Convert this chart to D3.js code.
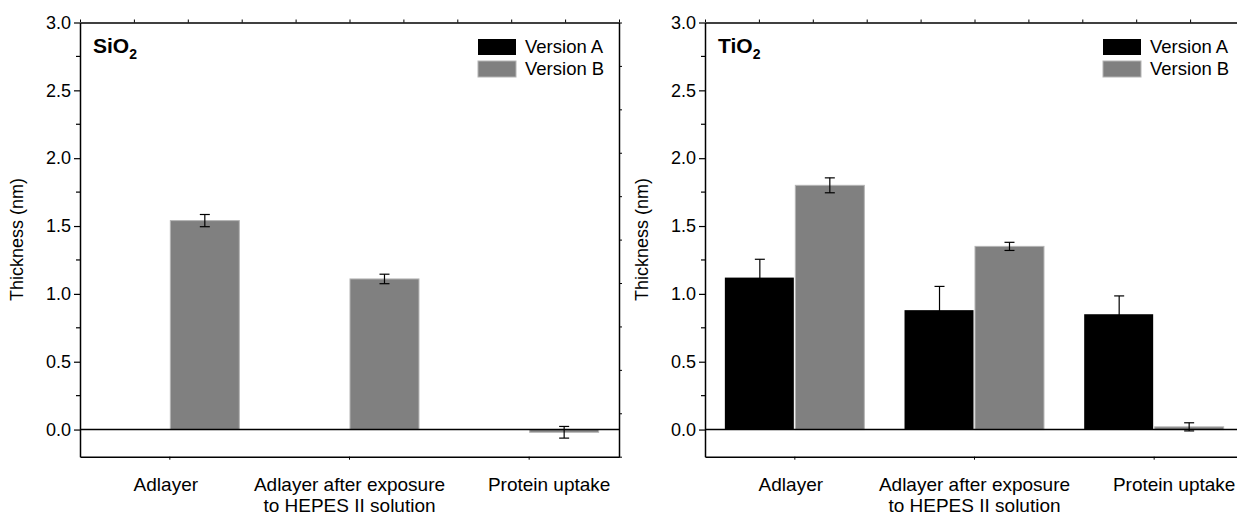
<!DOCTYPE html>
<html>
<head>
<meta charset="utf-8">
<script src="https://cdn.jsdelivr.net/npm/d3@7"></script>
<style>
  body { margin: 0; background: #fff; }
  svg text { font-family: "Liberation Sans", Arial, sans-serif; fill: #000; }
</style>
</head>
<body>
<div id="chart"></div>
<script>
// data
var categories = ["Adlayer", "Adlayer after exposure|to HEPES II solution", "Protein uptake"];
var series = ["Version A", "Version B"];
var seriesColor = ["#000000", "#808080"];

var sio2A = [null, null, null];
var sio2AErr = [null, null, null];
var sio2B = [1.54, 1.11, -0.02];
var sio2BErr = [0.045, 0.035, 0.043];

var tio2A = [1.12, 0.88, 0.85];
var tio2AErr = [0.135, 0.175, 0.135];
var tio2B = [1.80, 1.35, 0.02];
var tio2BErr = [0.055, 0.03, 0.03];

var yTicks = [0.0, 0.5, 1.0, 1.5, 2.0, 2.5, 3.0];

// layout
var W = 1237, H = 515;
var panelW = 539, plotTop = 22.5, plotBottom = 456.7;
var labelShift = [-4, 0, 20];

var svg = d3.select("#chart").append("svg")
	.attr("width", W)
	.attr("height", H);

var y = d3.scaleLinear().domain([-0.2, 3.0]).range([plotBottom, plotTop]);

var x0 = d3.scaleBand()
	.domain(categories)
	.range([0, panelW])
	.paddingInner(0.221)
	.paddingOuter(0.1105);

var x1 = d3.scaleBand()
	.domain(series)
	.range([0, x0.bandwidth()]);

// mirror axes (top/right) use a plain 0..10 scale like the original
var mirrorX = d3.scaleLinear().domain([0, 10]).range([0, panelW]);
var mirrorY = d3.scaleLinear().domain([0, 10]).range([plotBottom, plotTop]);

function drawPanel(px, title, valsA, errA, valsB, errB) {
	var g = svg.append("g").attr("transform", "translate(" + px + ",0)");

	var rows = [];
	categories.forEach(function(c, i) {
		rows.push({cat: c, s: 0, v: valsA[i], e: errA[i]});
		rows.push({cat: c, s: 1, v: valsB[i], e: errB[i]});
	});
	rows = rows.filter(function(d) { return d.v != null; });

	// bars
	g.selectAll("rect.bar")
		.data(rows)
		.enter().append("rect")
			.attr("class", "bar")
			.attr("x", function(d) { return x0(d.cat) + x1(series[d.s]) + (d.s == 0 ? 0 : 0.5); })
			.attr("width", x1.bandwidth() - 1)
			.attr("y", function(d) { return y(Math.max(0, d.v)); })
			.attr("height", function(d) { return Math.abs(y(d.v) - y(0)); })
			.attr("fill", function(d) { return seriesColor[d.s]; })
			.attr("stroke", function(d) { return d.s == 0 ? "none" : "#b4b4b4"; })
			.attr("stroke-width", 1);

	// error bars
	var eb = g.selectAll("g.err")
		.data(rows)
		.enter().append("g")
			.attr("class", "err")
			.attr("transform", function(d) {
				return "translate(" + (x0(d.cat) + x1(series[d.s]) + x1.bandwidth() / 2) + ",0)";
			});
	eb.append("line")
		.attr("y1", function(d) { return y(d.v - d.e); })
		.attr("y2", function(d) { return y(d.v + d.e); })
		.attr("stroke", "#000").attr("stroke-width", 1.2);
	eb.append("line")
		.attr("x1", -5).attr("x2", 5)
		.attr("y1", function(d) { return y(d.v + d.e); })
		.attr("y2", function(d) { return y(d.v + d.e); })
		.attr("stroke", "#000").attr("stroke-width", 1.2);
	eb.append("line")
		.attr("x1", -5).attr("x2", 5)
		.attr("y1", function(d) { return y(d.v - d.e); })
		.attr("y2", function(d) { return y(d.v - d.e); })
		.attr("stroke", "#000").attr("stroke-width", 1.2);

	// zero line
	g.append("line")
		.attr("x1", 0).attr("x2", panelW)
		.attr("y1", y(0)).attr("y2", y(0))
		.attr("stroke", "#000").attr("stroke-width", 1.5);

	// left axis
	var yAxis = d3.axisLeft(y)
		.tickValues(yTicks)
		.tickFormat(d3.format(".1f"))
		.tickSize(6)
		.tickSizeOuter(0)
		.tickPadding(3);
	var ya = g.append("g").call(yAxis);
	ya.select(".domain").attr("stroke-width", 1.5);
	ya.selectAll("text").attr("font-size", "18px").attr("font-family", "Liberation Sans, Arial, sans-serif");
	ya.selectAll("line").attr("stroke-width", 1.2);

	// minor ticks
	g.selectAll("line.minor")
		.data([0.25, 0.75, 1.25, 1.75, 2.25, 2.75])
		.enter().append("line")
			.attr("x1", -4).attr("x2", 0)
			.attr("y1", function(d) { return y(d); })
			.attr("y2", function(d) { return y(d); })
			.attr("stroke", "#000").attr("stroke-width", 1.2);

	// bottom axis
	var xAxis = d3.axisBottom(x0).tickSize(3).tickSizeOuter(0).tickFormat("");
	var xa = g.append("g")
		.attr("transform", "translate(0," + plotBottom + ")")
		.call(xAxis);
	xa.select(".domain").attr("stroke-width", 1.5);

	// top mirror axis
	var ta = g.append("g")
		.attr("transform", "translate(0," + plotTop + ")")
		.call(d3.axisTop(mirrorX).tickValues(d3.range(0, 11)).tickSize(3).tickSizeOuter(0).tickFormat(""));
	ta.select(".domain").attr("stroke-width", 1.5);

	// right mirror axis
	var ra = g.append("g")
		.attr("transform", "translate(" + panelW + ",0)")
		.call(d3.axisRight(mirrorY).tickValues(d3.range(0, 11)).tickSize(3).tickSizeOuter(0).tickFormat(""));
	ra.select(".domain").attr("stroke-width", 1.5);

	// category labels
	categories.forEach(function(c, i) {
		var lines = c.split("|");
		var cx = x0(c) + x0.bandwidth() / 2 + labelShift[i];
		var t = g.append("text")
			.attr("x", cx)
			.attr("y", 491)
			.attr("text-anchor", "middle")
			.attr("font-size", "19px");
		lines.forEach(function(l, j) {
			t.append("tspan")
				.attr("x", cx)
				.attr("dy", j == 0 ? 0 : 21)
				.text(l);
		});
	});

	// y title
	g.append("text")
		.attr("transform", "translate(" + (-57) + "," + ((plotTop + plotBottom) / 2) + ") rotate(-90)")
		.attr("text-anchor", "middle")
		.attr("font-size", "18px")
		.text("Thickness (nm)");

	// panel title with subscript
	var tt = g.append("text")
		.attr("x", 13)
		.attr("y", 53)
		.attr("font-size", "21px")
		.attr("font-weight", "bold");
	tt.append("tspan").text(title);
	tt.append("tspan").attr("font-size", "14px").attr("dy", 6).text("2");

	// legend
	var lg = g.append("g").attr("transform", "translate(398,39)");
	series.forEach(function(s, i) {
		lg.append("rect")
			.attr("x", 0).attr("y", i * 22)
			.attr("width", 38).attr("height", 16)
			.attr("fill", seriesColor[i])
			.attr("stroke", i == 0 ? "none" : "#b4b4b4");
		lg.append("text")
			.attr("x", 47).attr("y", i * 22 + 14)
			.attr("font-size", "18.5px")
			.text(s);
	});
}

drawPanel(80, "SiO", sio2A, sio2AErr, sio2B, sio2BErr);
drawPanel(705, "TiO", tio2A, tio2AErr, tio2B, tio2BErr);
</script>
</body>
</html>
